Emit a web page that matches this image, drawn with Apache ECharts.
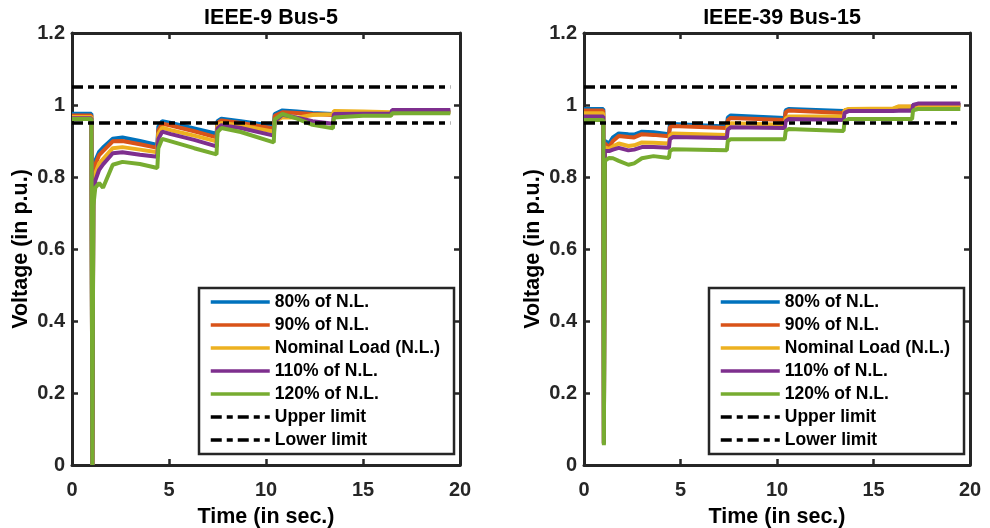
<!DOCTYPE html>
<html>
<head>
<meta charset="utf-8">
<script src="https://cdn.jsdelivr.net/npm/echarts@6/dist/echarts.min.js"></script>
<style>
  body { margin: 0; background: #fff; }
  #main { width: 990px; height: 528px; }
</style>
</head>
<body>
<div id="main"></div>
<script>
// IEEE-9 Bus-5 (left panel)
var timeBus5 = [0, 1.0, 1.05, 1.1, 1.2, 1.4, 1.6, 2.1, 2.6, 3.5, 4.4, 4.45, 4.65, 5.1, 6.3, 7.45, 7.5, 7.7, 8.7, 10.4, 10.45, 10.85, 11.6, 12.4, 13.45, 13.5, 15.0, 16.45, 16.5, 19.5];
var bus5Load80  = [0.976, 0.976, 0.0, 0.80, 0.845, 0.87, 0.882, 0.906, 0.91, 0.90, 0.889, 0.94, 0.955, 0.95, 0.935, 0.92, 0.955, 0.962, 0.955, 0.942, 0.975, 0.985, 0.982, 0.978, 0.975, 0.977, 0.977, 0.976, 0.982, 0.982];
var bus5Load90  = [0.971, 0.971, 0.0, 0.79, 0.835, 0.861, 0.872, 0.899, 0.90, 0.891, 0.881, 0.93, 0.948, 0.943, 0.927, 0.91, 0.95, 0.957, 0.95, 0.935, 0.97, 0.98, 0.978, 0.975, 0.972, 0.978, 0.978, 0.977, 0.981, 0.981];
var bus5Load100 = [0.967, 0.967, 0.0, 0.76, 0.81, 0.838, 0.85, 0.88, 0.883, 0.876, 0.869, 0.92, 0.937, 0.93, 0.915, 0.899, 0.943, 0.95, 0.943, 0.926, 0.955, 0.966, 0.965, 0.972, 0.974, 0.983, 0.982, 0.98, 0.981, 0.981];
var bus5Load110 = [0.963, 0.963, 0.0, 0.74, 0.79, 0.82, 0.835, 0.866, 0.869, 0.862, 0.856, 0.905, 0.926, 0.919, 0.903, 0.885, 0.935, 0.944, 0.936, 0.915, 0.955, 0.973, 0.965, 0.955, 0.948, 0.975, 0.976, 0.976, 0.986, 0.986];
var bus5Load120 = [0.961, 0.961, 0.0, 0.72, 0.77, 0.783, 0.77, 0.834, 0.842, 0.836, 0.825, 0.88, 0.906, 0.899, 0.88, 0.863, 0.925, 0.936, 0.925, 0.896, 0.96, 0.975, 0.962, 0.945, 0.935, 0.965, 0.97, 0.97, 0.977, 0.977];

// IEEE-39 Bus-15 (right panel)
var timeBus15 = [0, 1.0, 1.03, 1.08, 1.15, 1.3, 1.5, 1.8, 2.3, 2.6, 3.0, 3.6, 4.4, 4.45, 4.6, 7.4, 7.45, 7.6, 10.4, 10.45, 10.6, 13.45, 13.5, 13.7, 16.0, 16.3, 17.0, 17.05, 17.3, 19.5];
var bus15Load80  = [0.989, 0.989, 0.06, 0.90, 0.897, 0.893, 0.91, 0.921, 0.919, 0.918, 0.926, 0.924, 0.919, 0.945, 0.947, 0.94, 0.965, 0.971, 0.964, 0.985, 0.989, 0.983, 0.986, 0.987, 0.988, 0.989, 0.99, 1.0, 1.001, 1.0];
var bus15Load90  = [0.985, 0.985, 0.06, 0.893, 0.888, 0.883, 0.9, 0.914, 0.911, 0.91, 0.919, 0.917, 0.913, 0.938, 0.942, 0.936, 0.958, 0.964, 0.958, 0.98, 0.985, 0.978, 0.985, 0.986, 0.988, 0.995, 0.996, 1.0, 1.0, 1.0];
var bus15Load100 = [0.977, 0.977, 0.06, 0.882, 0.88, 0.878, 0.885, 0.893, 0.886, 0.888, 0.896, 0.895, 0.893, 0.915, 0.921, 0.917, 0.943, 0.949, 0.945, 0.962, 0.968, 0.968, 0.985, 0.989, 0.99, 0.996, 0.996, 0.998, 0.998, 0.998];
var bus15Load110 = [0.968, 0.968, 0.06, 0.872, 0.87, 0.872, 0.876, 0.881, 0.874, 0.876, 0.883, 0.883, 0.881, 0.905, 0.911, 0.908, 0.932, 0.938, 0.936, 0.955, 0.961, 0.958, 0.978, 0.983, 0.983, 0.984, 0.984, 1.0, 1.004, 1.004];
var bus15Load120 = [0.958, 0.958, 0.055, 0.845, 0.849, 0.853, 0.852, 0.845, 0.834, 0.838, 0.852, 0.858, 0.853, 0.872, 0.877, 0.874, 0.9, 0.905, 0.905, 0.928, 0.933, 0.928, 0.955, 0.961, 0.961, 0.961, 0.961, 0.985, 0.989, 0.989];

// limits
var limitTime = [0, 19.5];
var upperLimit = 1.05;
var lowerLimit = 0.95;

var panelTitles = ['IEEE-9 Bus-5', 'IEEE-39 Bus-15'];
var loadNames = ['80% of N.L.', '90% of N.L.', 'Nominal Load (N.L.)', '110% of N.L.', '120% of N.L.'];
var limitNames = ['Upper limit', 'Lower limit'];
var xTicks = [0, 20, 5];
var yTicks = [0, 1.2, 0.2];

var colors = ['#0072BD', '#D95319', '#EDB120', '#7E2F8E', '#77AC30'];
var FONT = 'Liberation Sans';
var AXIS = '#262626';

var grids = [
  { left: 72, top: 33, width: 388, height: 432 },
  { left: 584, top: 33, width: 386, height: 432 }
];

function pairs(ts, vs) {
  var out = [];
  for (var i = 0; i < ts.length; i++) out.push([ts[i], vs[i]]);
  return out;
}

var xAxes = [], yAxes = [], series = [], titles = [], legends = [];
var panels = [
  { time: timeBus5, loads: [bus5Load80, bus5Load90, bus5Load100, bus5Load110, bus5Load120] },
  { time: timeBus15, loads: [bus15Load80, bus15Load90, bus15Load100, bus15Load110, bus15Load120] }
];

panels.forEach(function(p, g) {
  var line = { show: true, onZero: false, lineStyle: { color: AXIS, width: 3 } };
  var tick = { show: true, inside: true, length: 6, lineStyle: { color: AXIS, width: 2.5 } };
  var lbl = { fontFamily: FONT, fontSize: 20, fontWeight: 'bold', color: AXIS };
  var nameStyle = { fontFamily: FONT, fontSize: 21.5, fontWeight: 'bold', color: '#000' };
  // bottom + top
  xAxes.push({
    gridIndex: g, type: 'value', position: 'bottom', min: xTicks[0], max: xTicks[1], interval: xTicks[2],
    axisLine: line, axisTick: tick, splitLine: { show: false },
    axisLabel: Object.assign({ margin: 15 }, lbl),
    name: 'Time (in sec.)', nameLocation: 'middle', nameGap: 41, nameTextStyle: nameStyle
  });
  xAxes.push({
    gridIndex: g, type: 'value', position: 'top', min: xTicks[0], max: xTicks[1], interval: xTicks[2],
    axisLine: line, axisTick: tick, splitLine: { show: false }, axisLabel: { show: false }
  });
  // left + right
  yAxes.push({
    gridIndex: g, type: 'value', position: 'left', min: yTicks[0], max: yTicks[1], interval: yTicks[2],
    axisLine: line, axisTick: tick, splitLine: { show: false },
    axisLabel: Object.assign({ margin: 7, formatter: function(v) { return String(+v.toFixed(1)); } }, lbl),
    name: 'Voltage (in p.u.)', nameLocation: 'middle', nameGap: 40, nameTextStyle: nameStyle
  });
  yAxes.push({
    gridIndex: g, type: 'value', position: 'right', min: yTicks[0], max: yTicks[1], interval: yTicks[2],
    axisLine: line, axisTick: tick, splitLine: { show: false }, axisLabel: { show: false }
  });

  var xi = g * 2, yi = g * 2;
  p.loads.forEach(function(vals, k) {
    series.push({
      type: 'line', name: loadNames[k], xAxisIndex: xi, yAxisIndex: yi,
      data: pairs(p.time, vals), symbol: 'none', animation: false,
      lineStyle: { color: colors[k], width: 4 }, itemStyle: { color: colors[k] }
    });
  });
  [upperLimit, lowerLimit].forEach(function(lv, k) {
    series.push({
      type: 'line', name: limitNames[k], xAxisIndex: xi, yAxisIndex: yi,
      data: pairs(limitTime, [lv, lv]), symbol: 'none', animation: false,
      lineStyle: { color: '#000', width: 3.5, type: [11, 5, 6, 5] }, itemStyle: { color: '#000' }
    });
  });

  var gr = grids[g];
  titles.push({
    text: panelTitles[g], left: gr.left + gr.width / 2, top: 2, textAlign: 'center',
    textStyle: { fontFamily: FONT, fontSize: 21.5, fontWeight: 'bold', color: '#000' }
  });
  legends.push({
    orient: 'vertical', left: gr.left + gr.width - 261, top: 288,
    data: loadNames.concat(limitNames), selectedMode: false,
    itemWidth: 59, itemHeight: 14, itemGap: 5,
    padding: [5, 14, 5, 10],
    itemStyle: { opacity: 0 },
    lineStyle: { width: 3.5 },
    borderColor: AXIS, borderWidth: 2.5, backgroundColor: '#fff',
    textStyle: { fontFamily: FONT, fontSize: 17.5, fontWeight: 'bold', color: '#000', lineHeight: 18 }
  });
});

var myChart = echarts.init(document.getElementById('main'));
myChart.setOption({
  animation: false,
  backgroundColor: '#fff',
  title: titles,
  legend: legends,
  grid: grids.map(function(g) { return Object.assign({ outerBoundsMode: 'none' }, g); }),
  xAxis: xAxes,
  yAxis: yAxes,
  series: series
});
</script>
</body>
</html>
